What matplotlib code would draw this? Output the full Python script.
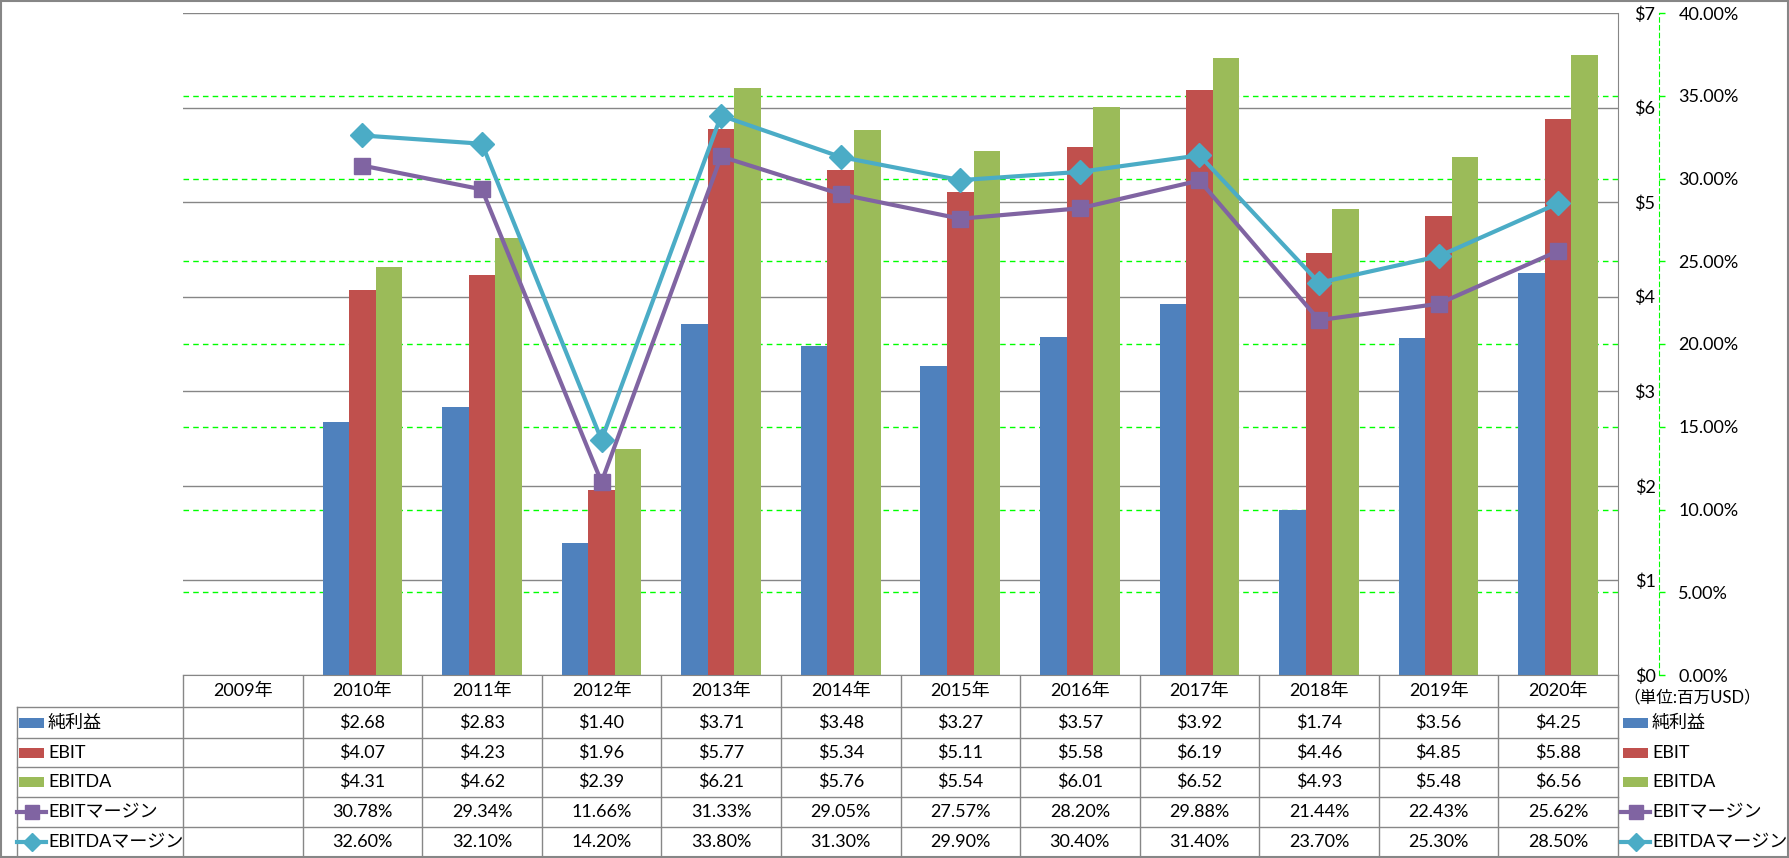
import numpy as np
import matplotlib.pyplot as plt
from matplotlib.ticker import FuncFormatter, FixedLocator
from matplotlib.patches import Rectangle

plt.rcParams['font.family'] = ['Lato', 'Noto Sans CJK JP']

years = ['2009年', '2010年', '2011年', '2012年', '2013年', '2014年',
         '2015年', '2016年', '2017年', '2018年', '2019年', '2020年']
net_income = [np.nan, 2.68, 2.83, 1.40, 3.71, 3.48, 3.27, 3.57, 3.92, 1.74, 3.56, 4.25]
ebit = [np.nan, 4.07, 4.23, 1.96, 5.77, 5.34, 5.11, 5.58, 6.19, 4.46, 4.85, 5.88]
ebitda = [np.nan, 4.31, 4.62, 2.39, 6.21, 5.76, 5.54, 6.01, 6.52, 4.93, 5.48, 6.56]
ebit_margin = [np.nan, 30.78, 29.34, 11.66, 31.33, 29.05, 27.57, 28.20, 29.88, 21.44, 22.43, 25.62]
ebitda_margin = [np.nan, 32.60, 32.10, 14.20, 33.80, 31.30, 29.90, 30.40, 31.40, 23.70, 25.30, 28.50]

names = ['純利益', 'EBIT', 'EBITDA', 'EBITマージン', 'EBITDAマージン']
unit_label = '（単位:百万USD）'

c_blue, c_red, c_green = '#4F81BD', '#C0504D', '#9BBB59'
c_purple, c_cyan = '#8064A2', '#4BACC6'
grid_gray = '#868686'
fs = 13

W, H = 1789, 858
fig = plt.figure(figsize=(W / 100, H / 100), dpi=100)

# pixel-space layer for table, legends and border
tax = fig.add_axes([0, 0, 1, 1])
tax.set_xlim(0, W)
tax.set_ylim(H, 0)
tax.axis('off')

L, R, T, B = 183, 1618, 13, 675
ax = fig.add_axes([L / W, (H - B) / H, (R - L) / W, (B - T) / H])
x = np.arange(len(years))
bw = 0.222
ax.bar(x - bw, net_income, bw, color=c_blue)
ax.bar(x, ebit, bw, color=c_red)
ax.bar(x + bw, ebitda, bw, color=c_green)
ax.set_xlim(-0.5, len(years) - 0.5)
ax.set_ylim(0, 7)
ax.set_xticks([])
ax.set_yticks(range(8))
ax.yaxis.set_minor_locator(FixedLocator(np.arange(5, 36, 5) * 7 / 40))
ax.grid(axis='y', which='major', color=grid_gray, lw=1)
ax.grid(axis='y', which='minor', color='#00FF00', lw=1, ls=(0, (4, 3)))
ax.set_axisbelow(True)
for s in ['left', 'top']:
    ax.spines[s].set_visible(False)
ax.spines['right'].set_color(grid_gray)
ax.spines['bottom'].set_color(grid_gray)

ax2 = ax.twinx()
ax2.plot(x, ebit_margin, color=c_purple, lw=3, marker='s', ms=12,
         solid_joinstyle='round')
ax2.plot(x, ebitda_margin, color=c_cyan, lw=3, marker='D', ms=12,
         solid_joinstyle='round')
ax2.set_ylim(0, 40)
ax2.set_yticks(range(0, 41, 5))
ax2.yaxis.set_major_formatter(FuncFormatter(lambda v, p: '%.2f%%' % v))
ax2.tick_params(axis='y', color='#00FF00', length=4, width=1, pad=10, labelsize=fs)
for s in ['left', 'top', 'bottom']:
    ax2.spines[s].set_visible(False)
ax2.spines['right'].set_position(('outward', 41 * 0.72))
ax2.spines['right'].set_color('#00FF00')
ax2.spines['right'].set_linestyle((0, (4, 3)))

# dollar labels sit between the plot edge and the percent axis
ax.yaxis.tick_right()
ax.tick_params(axis='y', which='major', length=0, pad=27, labelsize=fs)
ax.tick_params(axis='y', which='minor', length=0)
ax.yaxis.set_major_formatter(FuncFormatter(lambda v, p: '$%d' % v))
for lbl in ax.get_yticklabels():
    lbl.set_horizontalalignment('right')

# data table
line_c = '#878787'
colw = (R - L) / len(years)
rows = [707, 738, 767, 797, 827, 857]
for k in range(len(years) + 1):
    tax.plot([L + k * colw] * 2, [B, 857], color=line_c, lw=1)
for yy in rows:
    tax.plot([17, R], [yy, yy], color=line_c, lw=1)
tax.plot([17, 17], [707, 857], color=line_c, lw=1)

for i, yl in enumerate(years):
    tax.text(L + (i + 0.5) * colw, (B + 707) / 2, yl, ha='center', va='center', fontsize=fs)

series = [net_income, ebit, ebitda, ebit_margin, ebitda_margin]
for r, vals in enumerate(series):
    yc = (rows[r] + rows[r + 1]) / 2
    for i, v in enumerate(vals):
        if np.isnan(v):
            continue
        txt = ('$%.2f' % v) if r < 3 else ('%.2f%%' % v)
        tax.text(L + (i + 0.5) * colw, yc, txt, ha='center', va='center', fontsize=fs)


def legend_key(x0, r, text):
    yc = (rows[r] + rows[r + 1]) / 2
    if r < 3:
        tax.add_patch(Rectangle((x0 + 2, yc - 5), 25, 10,
                                color=[c_blue, c_red, c_green][r], lw=0))
    else:
        col = [c_purple, c_cyan][r - 3]
        mk = ['s', 'D'][r - 3]
        tax.plot([x0, x0 + 29], [yc, yc], color=col, lw=3)
        tax.plot([x0 + 14.5], [yc], color=col, marker=mk, ms=[10, 9][r - 3])
    tax.text(x0 + 31, yc, text, ha='left', va='center', fontsize=fs)


for r, nm in enumerate(names):
    legend_key(17, r, nm)
    legend_key(1621, r, nm)

tax.text(1692, 697, unit_label, ha='center', va='center', fontsize=12)

tax.add_patch(Rectangle((1, 1), W - 2, H - 2, fill=False, edgecolor='#868686', lw=1.5))

fig.savefig('out.png', dpi=100)
